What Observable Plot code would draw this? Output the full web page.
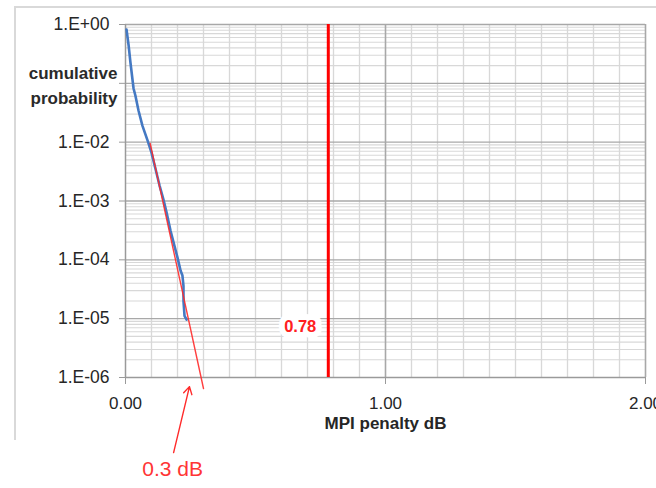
<!DOCTYPE html>
<html>
<head>
<meta charset="utf-8">
<script src="https://cdn.jsdelivr.net/npm/d3@7"></script>
<script src="https://cdn.jsdelivr.net/npm/@observablehq/plot@0.6"></script>
<style>
  html, body { margin: 0; padding: 0; background: #fff; overflow: hidden; }
  #wrap { position: relative; width: 656px; height: 488px; }
  #frame { position: absolute; left: 14px; top: 6px; width: 700px; height: 432px;
           border-left: 2px solid #d9d9d9; border-top: 2px solid #d9d9d9; pointer-events: none; }
  #chart { position: absolute; left: 0; top: 0; }
</style>
</head>
<body>
<div id="wrap"><div id="frame"></div><div id="chart"></div></div>
<script>
// Axis ticks and labels
const xTicks = [0, 1, 2];
const xTickLabels = ["0.00", "1.00", "2.00"];
const yTicks = [1, 1e-1, 1e-2, 1e-3, 1e-4, 1e-5, 1e-6];
const yTickLabels = ["1.E+00", "", "1.E-02", "1.E-03", "1.E-04", "1.E-05", "1.E-06"];
const xTitle = "MPI penalty dB";
const yTitle = "cumulative\nprobability";

// Measured cumulative probability (blue)
const measuredPenalty = [0.004, 0.012, 0.019, 0.031, 0.038, 0.050, 0.065, 0.085, 0.100, 0.115, 0.131, 0.146, 0.158, 0.173, 0.188, 0.200, 0.212, 0.219, 0.223, 0.223, 0.227, 0.235];
const measuredProb    = [0.82, 0.44, 0.226, 0.0817, 0.062, 0.0345, 0.0191, 0.0106, 0.00665, 0.00356, 0.00183, 0.00106, 6.35e-4, 3.14e-4, 1.74e-4, 1.09e-4, 6.5e-5, 5.4e-5, 3.6e-5, 2.0e-5, 1.12e-5, 9.6e-6];

// Extrapolated fit (red)
const fitPenalty = [0.095, 0.300];
const fitProb    = [9.5e-3, 6.5e-7];

// Limit line
const limitPenalty = 0.78;
const limitLabel = "0.78";
const limitLabelProb = 7.4e-6;

// Annotation arrow "0.3 dB"
const arrowPenalty = [0.185, 0.246];
const arrowProb    = [5.3e-8, 7.0e-7];
const annotationPenalty = 0.181;
const annotationLabel = "0.3 dB";

// Gridline positions
const xMinor = d3.range(1, 20).filter(i => i !== 10).map(i => i / 10);
const xMajor = [1, 2];
const yMinor = [];
for (let e = -6; e < 0; e++) for (let m = 2; m <= 9; m++) yMinor.push(m * Math.pow(10, e));
const yMajor = [1, 1e-1, 1e-2, 1e-3, 1e-4, 1e-5];

const xLabelMap = new Map(xTicks.map((d, i) => [d, xTickLabels[i]]));
const yLabelMap = new Map(yTicks.map((d, i) => [d, yTickLabels[i]]));

const measured = measuredPenalty.map((p, i) => ({p, q: measuredProb[i]}));
const fit = fitPenalty.map((p, i) => ({p, q: fitProb[i]}));

const font = "'Liberation Sans', Arial, sans-serif";

const chart = Plot.plot({
  width: 656,
  height: 488,
  marginLeft: 125,
  marginRight: 11,
  marginTop: 24,
  marginBottom: 111,
  style: {fontFamily: font, overflow: "visible", background: "transparent"},
  x: {domain: [0, 2]},
  y: {type: "log", domain: [1e-6, 1]},
  marks: [
    Plot.ruleY(yMinor, {stroke: "#d8d8d8", strokeWidth: 1.1}),
    Plot.ruleX(xMinor, {stroke: "#d8d8d8", strokeWidth: 1.3}),
    Plot.ruleY(yMajor, {stroke: "#a8a8a8", strokeWidth: 1.4}),
    Plot.ruleX(xMajor, {stroke: "#a8a8a8", strokeWidth: 1.6}),
    Plot.ruleX([0], {stroke: "#9a9a9a", strokeWidth: 1.5}),
    Plot.ruleY([1e-6], {stroke: "#9a9a9a", strokeWidth: 1.5}),
    Plot.axisY({ticks: yTicks, tickFormat: d => yLabelMap.get(d), tickSize: 6, tickPadding: 10,
                fontSize: 17.5, stroke: "#9a9a9a", fill: "#262626", label: null}),
    Plot.axisX({ticks: xTicks, tickFormat: d => xLabelMap.get(d), tickSize: 7, tickPadding: 12,
                fontSize: 17, stroke: "#9a9a9a", fill: "#262626", label: null}),
    Plot.text([yTitle], {x: 0, y: 0.1, dx: -8, text: d => d, textAnchor: "end", lineHeight: 1.5,
                fontSize: 17, fontWeight: "bold", fill: "#2a2a2a"}),
    Plot.text([xTitle], {x: 1, frameAnchor: "bottom", dy: 51, text: d => d,
                fontSize: 17, fontWeight: "bold", fill: "#262626"}),
    Plot.ruleX([limitPenalty], {stroke: "#ff0000", strokeWidth: 3}),
    Plot.text([limitLabel], {x: limitPenalty, y: limitLabelProb, dx: -12, text: d => d, textAnchor: "end",
                fontSize: 16.5, fontWeight: "bold", fill: "#ff2020", stroke: "white", strokeWidth: 12}),
    Plot.line(measured, {x: "p", y: "q", stroke: "#4479c3", strokeWidth: 2.6, clip: false}),
    Plot.line(fit, {x: "p", y: "q", stroke: "#ff2a2a", strokeWidth: 1.4, strokeOpacity: 0.9}),
    Plot.arrow([0], {x1: () => arrowPenalty[0], y1: () => arrowProb[0], x2: () => arrowPenalty[1], y2: () => arrowProb[1],
                stroke: "#ff2a2a", strokeWidth: 1.4, headLength: 9}),
    Plot.text([annotationLabel], {x: annotationPenalty, frameAnchor: "bottom", dy: 98, text: d => d,
                fontSize: 21, fill: "#ff3535"})
  ]
});
document.getElementById("chart").appendChild(chart);
</script>
</body>
</html>
